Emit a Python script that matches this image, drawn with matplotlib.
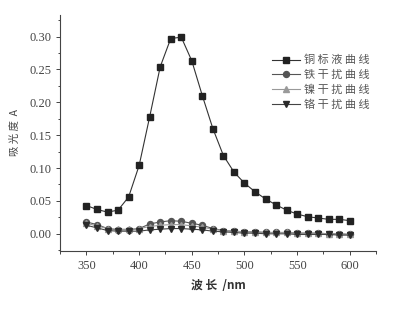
import matplotlib
matplotlib.use("Agg")
import matplotlib.pyplot as plt
from matplotlib.ticker import MultipleLocator

wavelength = [350, 360, 370, 380, 390, 400, 410, 420, 430, 440, 450, 460, 470,
              480, 490, 500, 510, 520, 530, 540, 550, 560, 570, 580, 590, 600]
copper = [0.043, 0.037, 0.033, 0.036, 0.056, 0.104, 0.178, 0.254, 0.297, 0.299,
          0.263, 0.210, 0.160, 0.119, 0.094, 0.077, 0.064, 0.053, 0.044, 0.036,
          0.030, 0.026, 0.024, 0.022, 0.022, 0.020]
iron = [0.018, 0.014, 0.008, 0.006, 0.006, 0.008, 0.015, 0.018, 0.020, 0.019,
        0.016, 0.013, 0.008, 0.005, 0.004, 0.003, 0.003, 0.002, 0.002, 0.002,
        0.001, 0.001, 0.001, 0.000, 0.000, -0.001]
nickel = [0.016, 0.012, 0.008, 0.007, 0.007, 0.008, 0.011, 0.013, 0.014, 0.014,
          0.012, 0.010, 0.007, 0.005, 0.004, 0.003, 0.003, 0.002, 0.002, 0.002,
          0.001, 0.001, 0.001, 0.000, 0.000, -0.001]
chromium = [0.013, 0.009, 0.005, 0.004, 0.004, 0.004, 0.006, 0.007, 0.008, 0.008,
            0.007, 0.006, 0.004, 0.003, 0.002, 0.001, 0.001, 0.000, 0.000, 0.000,
            -0.001, -0.001, -0.001, -0.001, -0.002, -0.002]
labels = ["铜标液曲线", "铁干扰曲线", "镍干扰曲线", "铬干扰曲线"]
ytick_vals = [0.00, 0.05, 0.10, 0.15, 0.20, 0.25, 0.30]

cjk = ["Noto Sans CJK SC", "DejaVu Sans"]
serif = ["Liberation Serif", "DejaVu Serif"]

fig = plt.figure(figsize=(4.01, 3.09), dpi=100)
ax = fig.add_axes([0.15, 0.188, 0.788, 0.764])

styles = [
    (copper, "s", "#222222", "#333333"),
    (iron, "o", "#555555", "#555555"),
    (nickel, "^", "#9a9a9a", "#999999"),
    (chromium, "v", "#2a2a2a", "#444444"),
]
for (data, mk, mcol, lcol), lab in zip(styles, labels):
    ax.plot(wavelength, data, marker=mk, color=lcol, mfc=mcol, mec=mcol,
            lw=0.8, ms=4.3, label=" ".join(lab))

ax.set_xlim(325, 625)
ax.set_ylim(-0.026, 0.333)
ax.xaxis.set_major_locator(MultipleLocator(50))
ax.xaxis.set_minor_locator(MultipleLocator(25))
ax.yaxis.set_minor_locator(MultipleLocator(0.025))
ax.set_yticks(ytick_vals)
ax.set_yticklabels([f"{v:.2f}" for v in ytick_vals])
for s in ["top", "right"]:
    ax.spines[s].set_visible(False)
for s in ["left", "bottom"]:
    ax.spines[s].set_color("#444444")
    ax.spines[s].set_linewidth(0.8)
ax.tick_params(which="both", direction="out", colors="#444444", width=0.7)
ax.tick_params(which="major", length=2.8, pad=3.5, labelsize=9, labelcolor="#444444")
ax.tick_params(which="minor", length=1.8)
for t in ax.get_xticklabels() + ax.get_yticklabels():
    t.set_fontfamily(serif)

ax.set_xlabel("波 长  /nm", fontfamily=cjk, fontsize=8.5, color="#333333",
              labelpad=5, fontweight="bold")
ax.set_ylabel("吸 光 度  A", fontfamily=cjk, fontsize=7.5, color="#444444", labelpad=7)

leg = ax.legend(loc="upper right", bbox_to_anchor=(0.978, 0.83), frameon=False,
                prop={"family": cjk, "size": 8}, handlelength=2.5,
                labelspacing=0.42, handletextpad=0.35, borderaxespad=0,
                borderpad=0)
for t in leg.get_texts():
    t.set_color("#555555")

fig.savefig("out.png", dpi=100)
